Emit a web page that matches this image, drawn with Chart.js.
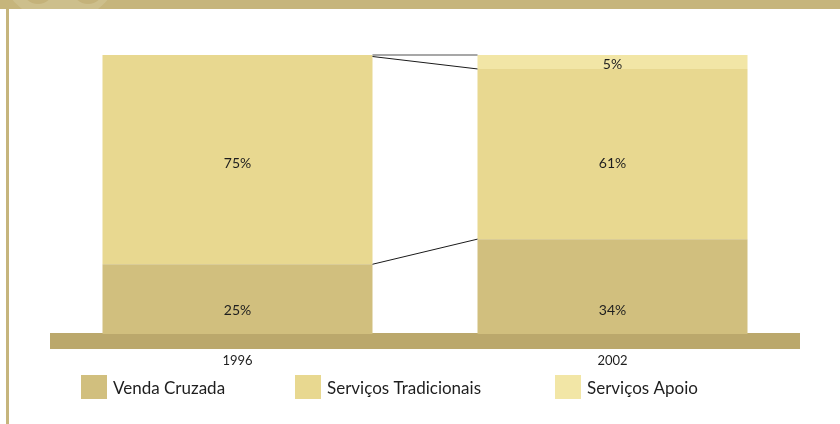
<!DOCTYPE html>
<html>
<head>
<meta charset="utf-8">
<script src="https://cdn.jsdelivr.net/npm/chart.js@4"></script>
<style>
  html, body { margin: 0; padding: 0; background: #fff; }
  #wrap { width: 840px; height: 424px; position: relative; }
</style>
</head>
<body>
<div id="wrap"><canvas id="chart"></canvas></div>
<script>
// Data
var years = ['1996', '2002']
var seriesNames = ['Venda Cruzada', 'Serviços Tradicionais', 'Serviços Apoio']
var vendaCruzada = [25, 34]
var servicosTradicionais = [75, 61]
var servicosApoio = [0, 5]

var colors = ['#d1bf7e', '#e8d890', '#f2e6a6']
var fontFamily = 'Lato, "Open Sans", sans-serif'

// where the % label sits inside each series (axis units)
var labelAt = [8.5, 61, 96.5]

var decor = {
    id: 'decor',
    beforeDraw(chart) {
        const ctx = chart.ctx
        ctx.save()
        // top band with the faint circles
        ctx.fillStyle = '#c6b57c'
        ctx.fillRect(0, 0, chart.width, 9)
        ctx.beginPath()
        ctx.rect(0, 0, chart.width, 9)
        ctx.clip()
        ctx.fillStyle = '#cdbf8c'
        ctx.beginPath()
        ctx.arc(60, -40, 62, 0, Math.PI * 2)
        ctx.fill()
        ctx.fillStyle = '#c4b27a'
        ctx.beginPath()
        ctx.arc(38, -12, 16, 0, Math.PI * 2)
        ctx.fill()
        ctx.beginPath()
        ctx.arc(88, -12, 16, 0, Math.PI * 2)
        ctx.fill()
        ctx.restore()
        // left rule
        ctx.save()
        ctx.fillStyle = '#c6b57c'
        ctx.fillRect(6, 9, 3, chart.height - 9)
        ctx.restore()
    },
    beforeDatasetsDraw(chart) {
        const ctx = chart.ctx
        const a = chart.chartArea
        ctx.save()
        ctx.fillStyle = '#bba86c'
        ctx.fillRect(a.left, a.bottom - 1, a.right - a.left, 16)
        ctx.restore()
    },
    afterDatasetsDraw(chart) {
        const ctx = chart.ctx
        const y = chart.scales.y
        const metas = chart.data.datasets.map((d, i) => chart.getDatasetMeta(i))
        ctx.save()

        // connector lines between the stack boundaries
        for (var i = 0; i < years.length - 1; i++) {
            var bar0 = metas[0].data[i]
            var bar1 = metas[0].data[i + 1]
            var x0 = bar0.x + bar0.width / 2
            var x1 = bar1.x - bar1.width / 2
            var sum0 = 0, sum1 = 0
            chart.data.datasets.forEach((ds, di) => {
                sum0 += ds.data[i]
                sum1 += ds.data[i + 1]
                var last = di == chart.data.datasets.length - 1
                ctx.strokeStyle = last ? '#8a8a8a' : '#1a1a1a'
                ctx.lineWidth = last ? 1.6 : 1
                ctx.beginPath()
                ctx.moveTo(x0, y.getPixelForValue(sum0) + (di == 1 ? 1.5 : 0))
                ctx.lineTo(x1, y.getPixelForValue(sum1))
                ctx.stroke()
            })
        }

        // % labels
        ctx.fillStyle = '#1e1e1e'
        ctx.font = '14px ' + fontFamily
        ctx.textAlign = 'center'
        ctx.textBaseline = 'middle'
        chart.data.datasets.forEach((ds, di) => {
            ds.data.forEach((v, i) => {
                if (!v) return
                var bar = metas[di].data[i]
                ctx.fillText(v + '%', bar.x, y.getPixelForValue(labelAt[di]))
            })
        })

        // year labels
        ctx.font = '13px ' + fontFamily
        years.forEach((yr, i) => {
            ctx.fillText(yr, metas[0].data[i].x, 361)
        })

        // legend
        var legendX = [81, 295, 555]
        ctx.font = '17px ' + fontFamily
        ctx.textAlign = 'left'
        seriesNames.forEach((name, i) => {
            ctx.fillStyle = colors[i]
            ctx.fillRect(legendX[i], 375, 26, 24)
            ctx.fillStyle = '#1e1e1e'
            ctx.fillText(name, legendX[i] + 32, 389)
        })
        ctx.restore()
    }
}

var seriesData = [vendaCruzada, servicosTradicionais, servicosApoio]

new Chart(document.getElementById('chart'), {
    type: 'bar',
    data: {
        labels: years,
        datasets: seriesNames.map((name, i) => ({
            label: name,
            data: seriesData[i],
            backgroundColor: colors[i],
            borderWidth: 0,
            categoryPercentage: 1,
            barPercentage: 0.72
        }))
    },
    options: {
        responsive: true,
        maintainAspectRatio: false,
        animation: false,
        layout: {
            padding: { left: 50, right: 40, top: 55, bottom: 90 }
        },
        plugins: {
            legend: { display: false },
            tooltip: { enabled: false }
        },
        scales: {
            x: { stacked: true, display: false },
            y: { stacked: true, display: false, min: 0, max: 100 }
        }
    },
    plugins: [decor]
})
</script>
</body>
</html>
